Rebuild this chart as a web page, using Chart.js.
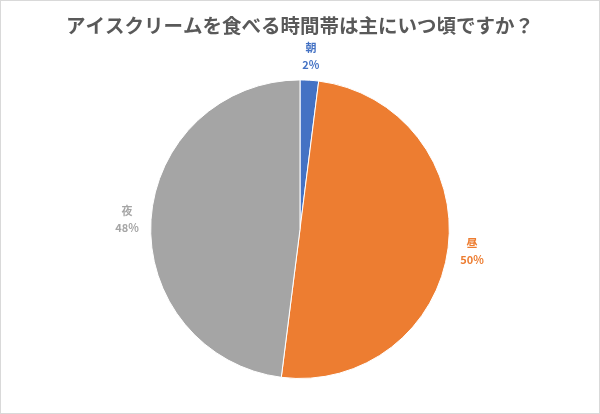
<!DOCTYPE html>
<html>
<head>
<meta charset="utf-8">
<script src="https://cdn.jsdelivr.net/npm/chart.js@4"></script>
<style>
  html, body { margin: 0; padding: 0; background: #fff; }
  #wrap { position: relative; width: 600px; height: 414px; box-sizing: border-box; border: 1px solid #d9d9d9; }
</style>
</head>
<body>
<div id="wrap"><canvas id="pieChart"></canvas></div>
<script>
const categories = ["朝", "昼", "夜"];
const shares = [2, 50, 48];
const colors = ["#4472C4", "#ED7D31", "#A5A5A5"];

// labels outside each slice: category on top, percent below
const outsideLabels = {
  id: "outsideLabels",
  afterDatasetsDraw(chart) {
    const ctx = chart.ctx;
    const meta = chart.getDatasetMeta(0);
    ctx.save();
    ctx.textAlign = "center";
    ctx.textBaseline = "middle";
    meta.data.forEach((arc, i) => {
      const mid = (arc.startAngle + arc.endAngle) / 2;
      const r = arc.outerRadius + 24;
      const x = arc.x + Math.cos(mid) * r;
      const y = arc.y + Math.sin(mid) * r;
      ctx.fillStyle = colors[i];
      ctx.font = "bold 11px 'Noto Sans CJK JP'";
      ctx.fillText(categories[i], x, y - 8);
      ctx.fillText(shares[i] + "%", x, y + 9);
    });
    ctx.restore();
  },
};

const pieCtx = document.getElementById("pieChart").getContext("2d");
new Chart(pieCtx, {
  type: "pie",
  data: {
    labels: categories,
    datasets: [
      {
        data: shares,
        backgroundColor: colors,
        borderColor: "#ffffff",
        borderWidth: 1,
      },
    ],
  },
  options: {
    responsive: true,
    maintainAspectRatio: false,
    animation: false,
    layout: { padding: { top: 0, bottom: 34 } },
    plugins: {
      legend: { display: false },
      tooltip: { enabled: false },
      title: {
        display: true,
        text: "アイスクリームを食べる時間帯は主にいつ頃ですか？",
        color: "#595959",
        font: { family: "'Noto Sans CJK JP'", size: 19.5, weight: "bold" },
        padding: { top: 13, bottom: 42 },
      },
    },
  },
  plugins: [outsideLabels],
});
</script>
</body>
</html>
